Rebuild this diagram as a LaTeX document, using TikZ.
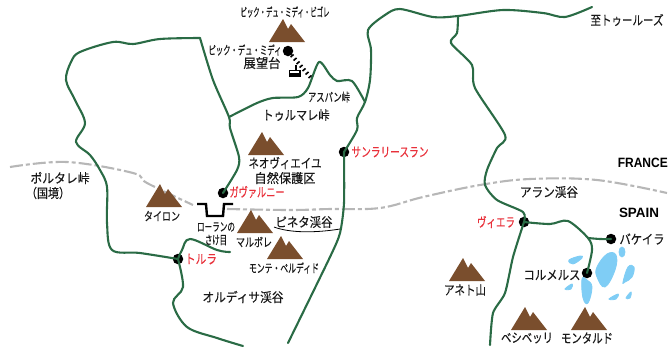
\documentclass[tikz,border=0pt]{standalone}
\usepackage{fontspec}
\usepackage{graphicx}
\setmainfont[FakeBold=0.25]{Noto Sans CJK JP}
\newfontfamily\latinb[Scale=1]{Liberation Sans}
\definecolor{roadgreen}{HTML}{2A6B45}
\definecolor{mtbrown}{HTML}{7A4E2D}
\definecolor{bordergrey}{HTML}{B7B7B7}
\definecolor{lakeblue}{HTML}{7FCDF5}
\definecolor{townred}{HTML}{E8303A}
\newcommand{\fitw}[2]{\resizebox{#1pt}{\height}{#2}}
\tikzset{
  x=1pt,y=-1pt,
  road/.style={draw=roadgreen,line width=2.1pt,line join=round,line cap=round},
  frontier/.style={draw=bordergrey,line width=2.1pt,dash pattern=on 13pt off 3pt on 4pt off 3pt},
  dot/.style={circle,fill=black,inner sep=0pt,minimum size=10.5pt},
  lab/.style={inner sep=0pt,font=\fontsize{13}{13}\selectfont,text=black!90},
  slab/.style={lab,font=\fontsize{12}{12}\selectfont},
  redlab/.style={lab,text=townred},
  country/.style={inner sep=0pt,font=\fontsize{13.5}{14}\latinb\bfseries},
  lake/.style={fill=lakeblue,draw=lakeblue,line width=.8pt},
  mountain/.pic={\fill[mtbrown] (0,0)--(14,-23)--(19,-13)--(22,-18)--(36,0)--cycle;}
}
\begin{document}
\begin{tikzpicture}
\useasboundingbox (0,0) rectangle (668,349);
% border
\draw[frontier] plot[smooth,tension=.6] coordinates {(10,167) (67,162) (133,173) (147,183) (193,205)};
\draw[frontier] plot[smooth,tension=.6] coordinates {(227,209) (290,210) (330,209) (380,208) (423,197) (480,185) (530,179) (597,180) (667,193)};
% lakes
\path[lake] plot[smooth cycle,tension=.7] coordinates {(597,267) (607,254) (616,255) (615,270) (605,287) (597,277)};
\path[lake] (622,252) ellipse [x radius=3,y radius=5];
\path[lake] plot[smooth cycle,tension=.7] coordinates {(623,282) (628,267) (634,267) (632,277) (625,282)};
\path[lake] plot[smooth cycle,tension=.7] coordinates {(569,260) (580,256) (582,258) (573,264)};
\path[lake] plot[smooth cycle,tension=.7] coordinates {(565,289) (572,284) (571,289)};
\path[lake] plot[smooth cycle,tension=.7] coordinates {(582,279) (587,280) (592,287) (588,303) (583,298)};
\path[lake] plot[smooth cycle,tension=.7] coordinates {(609,299) (618,294) (616,299)};
\path[lake] plot[smooth cycle,tension=.7] coordinates {(626,298) (631,292) (630,298)};
% towns
\node[dot] (pic) at (288,51) {};
\node[dot] (saint) at (344,152) {};
\node[dot] (gav) at (223,193) {};
\node[dot] (torla) at (178,259) {};
\node[dot] (vielha) at (524,222) {};
\node[dot] (baq) at (611,239) {};
\node[dot] (col) at (587,273) {};
\coordinate (nw) at (200,38);
\coordinate (tj) at (229,117);
\coordinate (aj) at (365,102);
\coordinate (tj2) at (458,16);
\coordinate (bj) at (588,238);
\coordinate (cableend) at (312,79);
\coordinate (topend) at (592,7);
% roads
\draw[road] plot[smooth,tension=.55] coordinates {(nw) (160,39) (133,44) (113,42) (80,52) (71,62) (66,80) (75,100) (85,123) (76,142) (90,155) (100,170) (107,187) (107,223) (112,250) (140,253) (torla)};
\draw[road] plot[smooth,tension=.45] coordinates {(nw) (213,80) (tj) (230,128) (239,157) (237,170) (gav)};
\draw[road] plot[smooth,tension=.45] coordinates {(tj) (257,103) (273,98) (298,97) (308,88) (319,62) (330,75) (337,81) (352,81) (aj)};
\draw[road] plot[smooth,tension=.5] coordinates {(topend) (565,17) (543,13) (503,10) (tj2) (433,17) (400,9) (385,15) (368,30) (371,50) (370,80) (aj) (357,118) (357,130) (saint)};
\draw[road] plot[smooth,tension=.4] coordinates {(saint) (344,203) (340,233) (330,257) (288,343)};
\draw[road] plot[smooth,tension=.45] coordinates {(tj2) (457,33) (451,43) (472,65) (475,88) (505,135) (497,148) (487,170) (485,185) (497,200) (523,212) (vielha)};
\draw[road] plot[smooth,tension=.4] coordinates {(vielha) (513,257) (505,293) (493,313) (490,345)};
\draw[road] plot[smooth,tension=.5] coordinates {(vielha) (550,224) (568,221) (bj) (592,250) (col)};
\draw[road] plot[smooth,tension=.5] coordinates {(bj) (600,239) (baq)};
\draw[road] plot[smooth,tension=.6] coordinates {(torla) (182,250) (190,239) (217,250) (230,252)};
\draw[road] plot[smooth,tension=.55] coordinates {(torla) (183,287) (173,303) (187,327) (217,338) (243,346)};
% cable car
\draw[line width=4pt,dash pattern=on 1.6pt off 3pt] (pic) -- (cableend);
\node[fill=black,inner sep=0pt,minimum width=10.5pt,minimum height=4pt] (cabin) at (295,75) {};
\draw[line width=1.1pt] (289.5,77) -- (289.5,70.5) -- (300,70.5) -- (300,77);
\draw[line width=1.1pt] (296,70.5) -- (296,65);
% Breche de Roland
\coordinate (brl) at (197,204);
\coordinate (brr) at (233,204);
\draw[line width=2.4pt,line join=miter] (brl) -- (206,204) -- (207,216) -- (223,216) -- (224,204) -- (brr);
% Pineta underline
\coordinate (pinl) at (274,227);
\coordinate (pinr) at (340,229);
\draw[line width=.8pt] (pinl) .. controls (290,233) and (315,233) .. (pinr);
% mountains
\path (269,42) pic {mountain};
\path (248,155) pic {mountain};
\path (146,207) pic {mountain};
\path (237,233) pic {mountain};
\path (267,259) pic {mountain};
\path (449,281) pic {mountain};
\path (511,330) pic {mountain};
\path (571,330) pic {mountain};
% labels
\node[slab] (t1) at (285,12) {\fitw{89}{ピック・デュ・ミディ・ビゴレ}};
\node[slab] (t2) at (245,50) {\fitw{73}{ピック・デュ・ミディ}};
\node[lab] (t3) at (262,63) {\fitw{37}{展望台}};
\node[lab] (t4) at (296,115) {\fitw{67}{トゥルマレ峠}};
\node[slab] (t5) at (329,97) {\fitw{42}{アスパン峠}};
\node[lab] (t6) at (285,163) {\fitw{73}{ネオヴィエイユ}};
\node[lab] (t7) at (285,178) {\fitw{61}{自然保護区}};
\node[lab] (t8) at (60,178) {\fitw{59}{ポルタレ峠}};
\node[lab] (t9) at (48,193) {\fitw{44}{（国境）}};
\node[redlab] (t10) at (257,192) {\fitw{55}{ガヴァルニー}};
\node[slab] (t11) at (162,216) {\fitw{36}{タイロン}};
\node[slab] (t12) at (216,227) {\fitw{38}{ローランの}};
\node[slab] (t13) at (216,240) {\fitw{22}{さけ目}};
\node[slab] (t14) at (254,242) {\fitw{36}{マルボレ}};
\node[lab] (t15) at (304,222) {\fitw{57}{ピネタ渓谷}};
\node[redlab] (t16) at (201,259) {\fitw{32}{トルラ}};
\node[slab] (t17) at (284,268) {\fitw{70}{モンテ・ペルディド}};
\node[lab] (t18) at (243,297) {\fitw{81}{オルディサ渓谷}};
\node[redlab] (t19) at (390,152) {\fitw{77}{サンラリースラン}};
\node[lab] (t20) at (627,20) {\fitw{73}{至トゥールーズ}};
\node[country,anchor=east] (t21) at (668,163) {\fitw{50}{FRANCE}};
\node[lab] (t22) at (549,192) {\fitw{58}{アラン渓谷}};
\node[country] (t23) at (639,213) {\fitw{40}{SPAIN}};
\node[redlab] (t24) at (496,222) {\fitw{38}{ヴィエラ}};
\node[lab] (t25) at (642,239) {\fitw{45}{バケイラ}};
\node[lab] (t26) at (552,275) {\fitw{57}{コルメルス}};
\node[lab] (t27) at (465,290) {\fitw{42}{アネト山}};
\node[lab] (t28) at (527,338) {\fitw{52}{ベシベッリ}};
\node[lab] (t29) at (587,338) {\fitw{52}{モンタルド}};
\end{tikzpicture}
\end{document}
